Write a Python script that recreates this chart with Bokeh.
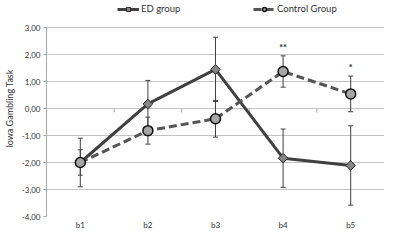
from bokeh.plotting import figure
from bokeh.models import ColumnDataSource, Whisker, TeeHead, Legend, LegendItem, FixedTicker
from bokeh.embed import file_html
from bokeh.resources import INLINE
from bokeh.core.properties import value

categories = ["b1", "b2", "b3", "b4", "b5"]
ed_mean = [-2.00, 0.17, 1.45, -1.84, -2.11]
ed_err = [0.90, 0.87, 1.19, 1.08, 1.47]
ctrl_mean = [-2.00, -0.82, -0.38, 1.37, 0.54]
ctrl_err = [0.47, 0.50, 0.68, 0.58, 0.66]
sig_labels = ["", "", "", "**", "*"]
y_ticks = [-4, -3, -2, -1, 0, 1, 2, 3]
y_tick_labels = ["-4,00", "-3,00", "-2,00", "-1,00", "0,00", "1,00", "2,00", "3,00"]

FONT = "Lato"
xs = list(range(1, len(categories) + 1))

ed = ColumnDataSource(dict(x=xs, y=ed_mean,
                           lo=[m - e for m, e in zip(ed_mean, ed_err)],
                           hi=[m + e for m, e in zip(ed_mean, ed_err)]))
ct = ColumnDataSource(dict(x=xs, y=ctrl_mean,
                           lo=[m - e for m, e in zip(ctrl_mean, ctrl_err)],
                           hi=[m + e for m, e in zip(ctrl_mean, ctrl_err)],
                           sig=sig_labels))

# extra headroom above 3,00 holds the legend inside the frame
p = figure(width=384, height=232, output_backend="svg", toolbar_location=None,
           x_range=(0.5, len(categories) + 0.5), y_range=(-4, 4.0),
           min_border_left=42, min_border_right=0, min_border_top=0, min_border_bottom=14)
p.outline_line_color = None
p.background_fill_color = "white"
p.xgrid.grid_line_color = None
p.ygrid.grid_line_color = "#c4c4c4"
p.ygrid.grid_line_width = 1

# y axis
p.yaxis.ticker = FixedTicker(ticks=y_ticks)
p.yaxis.bounds = (min(y_ticks), max(y_ticks))
p.yaxis.major_label_overrides = {t: l for t, l in zip(y_ticks, y_tick_labels)}
p.yaxis.axis_line_color = "#a8a8a8"
p.yaxis.major_tick_line_color = "#a8a8a8"
p.yaxis.major_tick_out = 3
p.yaxis.major_tick_in = 0
p.yaxis.minor_tick_line_color = None
p.yaxis.major_label_text_font = FONT
p.yaxis.major_label_text_font_size = "8px"
p.yaxis.major_label_text_color = "#333333"
p.yaxis.major_label_standoff = 3
p.yaxis.axis_label = "Iowa Gambling Task"
p.yaxis.axis_label_text_font = FONT
p.yaxis.axis_label_text_font_size = "9px"
p.yaxis.axis_label_text_font_style = "normal"
p.yaxis.axis_label_text_color = "#333333"
p.yaxis.axis_label_standoff = 4

# x axis
p.xaxis.ticker = FixedTicker(ticks=xs)
p.xaxis.major_label_overrides = {x: c for x, c in zip(xs, categories)}
p.xaxis.axis_line_color = None
p.xaxis.major_tick_line_color = None
p.xaxis.major_tick_out = 0
p.xaxis.major_tick_in = 0
p.xaxis.minor_tick_line_color = None
p.xaxis.minor_tick_out = 0
p.xaxis.major_label_text_font = FONT
p.xaxis.major_label_text_font_size = "8px"
p.xaxis.major_label_text_color = "#333333"
p.xaxis.major_label_standoff = 3

# category boundary ticks on the zero line
bounds = [i + 0.5 for i in range(len(categories) + 1)]
p.segment(x0=bounds, y0=[0] * len(bounds), x1=bounds, y1=[-0.15] * len(bounds),
          line_color="#a8a8a8", line_width=1)

# error bars
for src in (ed, ct):
    w = Whisker(source=src, base="x", lower="lo", upper="hi",
                line_color="#404040", line_width=1,
                upper_head=TeeHead(size=5, line_color="#404040", line_width=1),
                lower_head=TeeHead(size=5, line_color="#404040", line_width=1))
    p.add_layout(w)

ed_line = p.line("x", "y", source=ed, line_color="#404040", line_width=3)
ed_pts = p.scatter("x", "y", source=ed, marker="square", angle=0.785398, size=6.8,
                   fill_color="#858585", line_color="#2a2a2a", line_width=1)
ct_line = p.line("x", "y", source=ct, line_color="#555555", line_width=3, line_dash="8 4")
ct_pts = p.scatter("x", "y", source=ct, marker="circle", size=10,
                   fill_color="#a6a6a6", line_color="#111111", line_width=1.5)

p.text("x", "hi", text="sig", source=ct, text_align="center", text_baseline="bottom",
       y_offset=-3, text_font=value(FONT), text_font_size="9px", text_color="#222222",
       text_font_style="bold")

leg1 = Legend(items=[LegendItem(label="ED group", renderers=[ed_line, ed_pts])],
              location=(71, 202), orientation="horizontal")
leg2 = Legend(items=[LegendItem(label="Control Group", renderers=[ct_line, ct_pts])],
              location=(207, 202), orientation="horizontal")
for lg in (leg1, leg2):
    lg.border_line_color = None
    lg.background_fill_alpha = 0
    lg.padding = 0
    lg.margin = 0
    lg.glyph_width = 22
    lg.glyph_height = 10
    lg.label_height = 10
    lg.label_standoff = 2
    lg.label_text_font = FONT
    lg.label_text_font_size = "9.5px"
    lg.label_text_color = "#333333"
    lg.label_text_baseline = "middle"
    p.add_layout(lg, "center")

open("out.html", "w").write(file_html(p, INLINE))
